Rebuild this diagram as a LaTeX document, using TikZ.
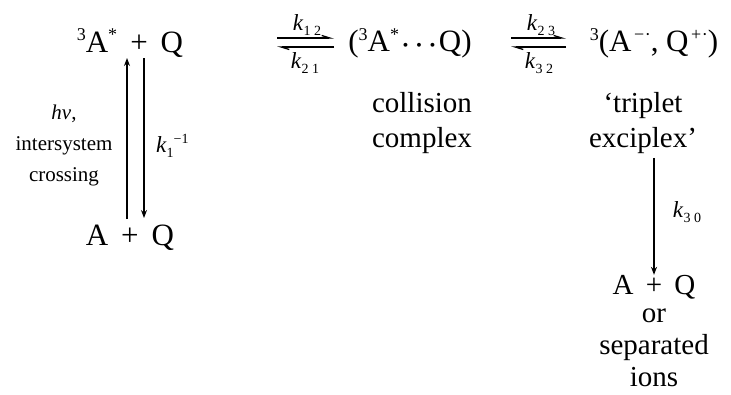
\documentclass[tikz,border=0pt]{standalone}
\usepackage{fontspec}
\setmainfont{Liberation Serif}
\usetikzlibrary{arrows.meta}
\usepackage{amsmath}
\newcommand{\bigtxt}{\fontsize{31}{34}\selectfont}
\newcommand{\ktxt}{\fontsize{23}{26}\selectfont}
\newcommand{\spc}{\hspace{0.42em}}
\newcommand{\upr}[1]{\raisebox{0.36em}{\fontsize{18}{18}\selectfont #1}}
\newcommand{\cdt}{\(\boldsymbol{\cdot}\)}
\newcommand{\ksub}[1]{\textit{k}\raisebox{-0.22em}{\fontsize{14}{14}\selectfont\addfontfeatures{LetterSpace=25}#1}}
\begin{document}
\begin{tikzpicture}[x=1pt,y=-1pt,
  species/.style={inner sep=0pt,font=\bigtxt,align=center},
  rate/.style={inner sep=0pt,font=\ktxt},
  harp/.style={line width=1.3pt,-{Straight Barb[left,length=8pt,width=5pt]}},
  rxn/.style={line width=1.3pt,-{Stealth[length=8pt,width=6pt]}}]
\useasboundingbox (0,0) rectangle (731,394);
% species
\node[species] (top) at (130,43) {\upr{3}A\upr{*}\spc+\spc Q};
\node[species] (bot) at (130,238) {A\spc+\spc Q};
\node[species] (coll) at (410,43) {(\upr{3}A\upr{*}\hspace{0.08em}\cdt\hspace{0.18em}\cdt\hspace{0.18em}\cdt\hspace{0.08em}Q)};
\node[species] (exc) at (654,43) {\upr{3}(A\hspace{0.08em}\upr{−\hspace{0.03em}·}, Q\hspace{0.08em}\upr{+\hspace{0.03em}·})};
\node[species,font=\fontsize{29}{31}\selectfont] (prod) at (654,287) {A\spc+\spc Q};
\node[species,font=\fontsize{29}{32}\selectfont] (prodtxt) at (654,348) {or\\separated\\ions};
% descriptions
\node[species,font=\fontsize{29}{35}\selectfont] (colltxt) at (422,123) {collision\\complex};
\node[species,font=\fontsize{29}{35}\selectfont] (exctxt) at (643,123) {‘triplet\\exciplex’};
\node[species,font=\fontsize{21}{31}\selectfont] (isc) at (64,145) {\textit{hν},\\intersystem\\crossing};
% vertical arrows
\coordinate (upS) at (127,219);
\coordinate (upE) at (127,58);
\coordinate (dnS) at (144,58);
\coordinate (dnE) at (144,218);
\draw[rxn] (upS) -- (upE);
\draw[rxn] (dnS) -- (dnE);
\node[rate,anchor=west] (k1) at (156,146) {\textit{k}\raisebox{-0.22em}{\fontsize{14}{14}\selectfont 1}\raisebox{0.4em}{\fontsize{14}{14}\selectfont −1}};
% equilibrium 1
\coordinate (e1a) at (277,38);
\coordinate (e1b) at (334,38);
\coordinate (e1c) at (334,47);
\coordinate (e1d) at (277,47);
\draw[harp] (e1a) -- (e1b);
\draw[harp] (e1c) -- (e1d);
\node[rate] (k12) at (307,25) {\ksub{12}};
\node[rate] (k21) at (305,63) {\ksub{21}};
% equilibrium 2
\coordinate (e2a) at (511,38);
\coordinate (e2b) at (566,38);
\coordinate (e2c) at (566,47);
\coordinate (e2d) at (511,47);
\draw[harp] (e2a) -- (e2b);
\draw[harp] (e2c) -- (e2d);
\node[rate] (k23) at (541,25) {\ksub{23}};
\node[rate] (k32) at (539,63) {\ksub{32}};
% decay
\draw[rxn] (exctxt.south -| prod) ++(0,4) -- (prod.north);
\node[rate] (k30) at (687,212) {\ksub{30}};
\end{tikzpicture}
\end{document}
